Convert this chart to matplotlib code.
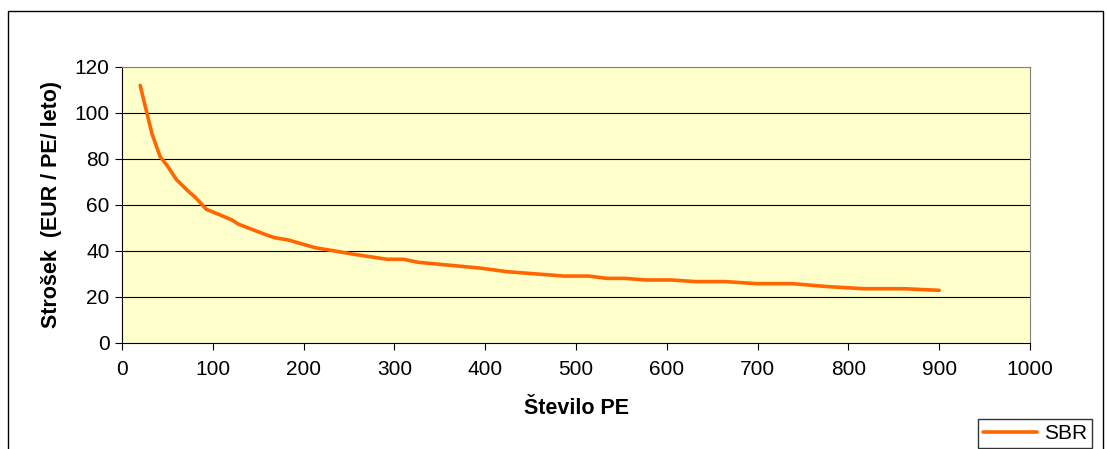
import matplotlib.pyplot as plt
from matplotlib.patches import Rectangle

plt.rcParams['font.family'] = ['Liberation Sans', 'DejaVu Sans']

# Število PE vs strošek
pe = [20, 33, 42, 50, 60, 73, 80, 93, 106, 121, 128, 159, 168, 183, 213, 233, 255,
      292, 310, 326, 361, 396, 424, 487, 514, 534, 554, 577, 605, 632, 664, 699,
      738, 778, 817, 861, 900]
cost = [112, 91, 81, 77, 71, 66, 63.6, 58.1, 56, 53.5, 51.7, 47, 45.8, 44.8, 41.4,
        40.1, 38.6, 36.4, 36.4, 35.1, 33.8, 32.5, 31, 29.1, 29.1, 28.1, 28.1, 27.4,
        27.4, 26.7, 26.7, 25.8, 25.8, 24.5, 23.6, 23.6, 22.9]
xticks = list(range(0, 1001, 100))
yticks = list(range(0, 121, 20))

fig = plt.figure(figsize=(11.07, 4.49), dpi=100)
fig.patches.append(Rectangle((8 / 1107, -0.1), 1095 / 1107, 1 - 11 / 449 + 0.1,
                             transform=fig.transFigure, fill=False,
                             edgecolor='#000000', lw=1.0))

ax = fig.add_axes([122 / 1107, 1 - 343 / 449, 908 / 1107, 276 / 449])
ax.set_facecolor('#FFFFCC')
for y in yticks[1:-1]:
    ax.axhline(y, color='#000000', lw=0.8, zorder=1)
line, = ax.plot(pe, cost, color='#FF6600', lw=2.6, label='SBR', zorder=3,
                solid_capstyle='round')

ax.set_xlim(0, 1000)
ax.set_ylim(0, 120)
ax.set_xticks(xticks)
ax.set_yticks(yticks)
ax.tick_params(labelsize=15, length=5, width=0.8, direction='out', pad=7)
ax.tick_params(axis='y', pad=4)
for s in ['top', 'right']:
    ax.spines[s].set_color('#808080')
for s in ['left', 'bottom']:
    ax.spines[s].set_color('#000000')
ax.set_xlabel('Število PE', fontsize=15.5, fontweight='bold', labelpad=14)
ax.set_ylabel('Strošek  (EUR / PE/ leto)', fontsize=15.5, fontweight='bold', labelpad=9)

fig.legend(handles=[line], loc='lower right', bbox_to_anchor=(1092 / 1107, 1 / 449),
           fontsize=15, frameon=True, fancybox=False, edgecolor='#000000',
           handlelength=2.6, handletextpad=0.3, borderpad=0.25, borderaxespad=0)

fig.savefig('out.png', dpi=100)
